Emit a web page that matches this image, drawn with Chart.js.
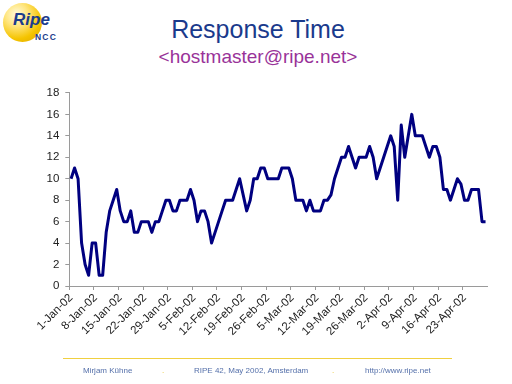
<!DOCTYPE html>
<html>
<head>
<meta charset="utf-8">
<script src="https://cdn.jsdelivr.net/npm/chart.js@4"></script>
<style>
  html, body { margin: 0; padding: 0; background: #fff; }
  body { width: 512px; height: 384px; position: relative; overflow: hidden; font-family: "Liberation Sans", Arial, sans-serif; }
  .logo { position: absolute; left: 3px; top: 3px; width: 39px; height: 39px; border-radius: 50%;
          background: radial-gradient(circle at 35% 30%, #fffbe0 0%, #ffe680 30%, #f5c400 65%, #d9a300 100%); }
  .ripe { position: absolute; left: 13px; top: 10px; font: italic bold 17px "Liberation Sans", Arial, sans-serif; color: #1c3c8c; }
  .ncc { position: absolute; left: 35px; top: 32px; font: bold 8.5px "Liberation Sans", Arial, sans-serif; color: #1c3c8c; letter-spacing: 1.2px; }
  .title { position: absolute; left: 0; width: 516px; top: 15px; text-align: center; font-size: 25px; color: #1a3a8c; }
  .sub { position: absolute; left: 0; width: 516px; top: 46px; text-align: center; font-size: 19px; color: #993399; }
  #wrap { position: absolute; left: 0; top: 80px; width: 512px; height: 290px; }
  .rule { position: absolute; left: 63px; top: 358px; width: 389px; height: 1px; background: #f0d040; }
  .foot { position: absolute; top: 366px; font-size: 8px; color: #5570aa; white-space: nowrap; }
  .dot { position: absolute; top: 366px; font-size: 8px; color: #e8c020; }
</style>
</head>
<body>
<div class="logo"></div>
<div class="ripe">Ripe</div>
<div class="ncc">NCC</div>
<div class="title">Response Time</div>
<div class="sub">&lt;hostmaster@ripe.net&gt;</div>
<div id="wrap"><canvas id="chart" width="512" height="290"></canvas></div>
<div class="rule"></div>
<div class="foot" style="left:83px">Mirjam Kühne</div>
<div class="dot" style="left:162px">.</div>
<div class="foot" style="left:194px">RIPE 42, May 2002, Amsterdam</div>
<div class="dot" style="left:332px">.</div>
<div class="foot" style="left:365px">http://www.ripe.net</div>
<script>
// weekly tick labels (one every 7 days)
const weekLabels = ["1-Jan-02", "8-Jan-02", "15-Jan-02", "22-Jan-02", "29-Jan-02",
  "5-Feb-02", "12-Feb-02", "19-Feb-02", "26-Feb-02",
  "5-Mar-02", "12-Mar-02", "19-Mar-02", "26-Mar-02",
  "2-Apr-02", "9-Apr-02", "16-Apr-02", "23-Apr-02"];

// daily response time, 1 Jan - 29 Apr 2002
const responseTime = [
  10, 11, 10, 4, 2, 1, 4, 4, 1, 1, 5, 7, 8, 9,
  7, 6, 6, 7, 5, 5, 6, 6, 6, 5, 6, 6, 7, 8,
  8, 7, 7, 8, 8, 8, 9, 8, 6, 7, 7, 6, 4, 5,
  6, 7, 8, 8, 8, 9, 10, 8.5, 7, 8, 10, 10, 11, 11,
  10, 10, 10, 10, 11, 11, 11, 10, 8, 8, 8, 7, 8, 7,
  7, 7, 8, 8, 8.5, 10, 11, 12, 12, 13, 12, 11, 12, 12,
  12, 13, 12, 10, 11, 12, 13, 14, 13, 8, 15, 12, 14, 16,
  14, 14, 14, 13, 12, 13, 13, 12, 9, 9, 8, 9, 10, 9.5,
  8, 8, 9, 9, 9, 6, 6
];

const yTicks = { min: 0, max: 18, step: 2 };

// one category per day
const days = [];
const months = ["Jan", "Feb", "Mar", "Apr"];
const start = new Date(2002, 0, 1);
for (let i = 0; i < responseTime.length; i++) {
  const d = new Date(start.getTime() + i * 86400000);
  days.push(d.getDate() + "-" + months[d.getMonth()] + "-02");
}

const axisGrey = "#9a9a9a";
const labelFont = { family: "Liberation Sans, Arial, sans-serif", size: 11.5 };

new Chart(document.getElementById("chart"), {
  type: "line",
  data: {
    labels: days,
    datasets: [{
      label: "Response Time",
      data: responseTime,
      borderColor: "#000080",
      borderWidth: 3,
      borderJoinStyle: "round",
      pointRadius: 0,
      tension: 0,
      fill: false,
    }],
  },
  options: {
    responsive: false,
    animation: false,
    layout: { padding: { top: 10, right: 24.7, left: 0, bottom: 0 } },
    plugins: { legend: { display: false }, tooltip: { enabled: false } },
    scales: {
      x: {
        type: "category",
        offset: true,
        afterFit: (scale) => { scale.height = 84; },
        grid: {
          offset: true,
          drawOnChartArea: false,
          tickLength: 4,
          color: (ctx) => (ctx.index % 7 === 0 ? axisGrey : "rgba(0,0,0,0)"),
        },
        border: { display: true, color: axisGrey, width: 1 },
        ticks: {
          autoSkip: false,
          maxRotation: 45,
          minRotation: 45,
          padding: 1,
          color: "#222",
          font: labelFont,
          callback: (value, index) => (index % 7 === 0 ? weekLabels[index / 7] : ""),
        },
      },
      y: {
        min: yTicks.min,
        max: yTicks.max,
        afterFit: (scale) => { scale.width = 69.3; },
        grid: { drawOnChartArea: false, tickLength: 4, color: axisGrey },
        border: { display: true, color: axisGrey, width: 1 },
        ticks: { stepSize: yTicks.step, padding: 6, color: "#222", font: labelFont },
      },
    },
  },
});
</script>
</body>
</html>
